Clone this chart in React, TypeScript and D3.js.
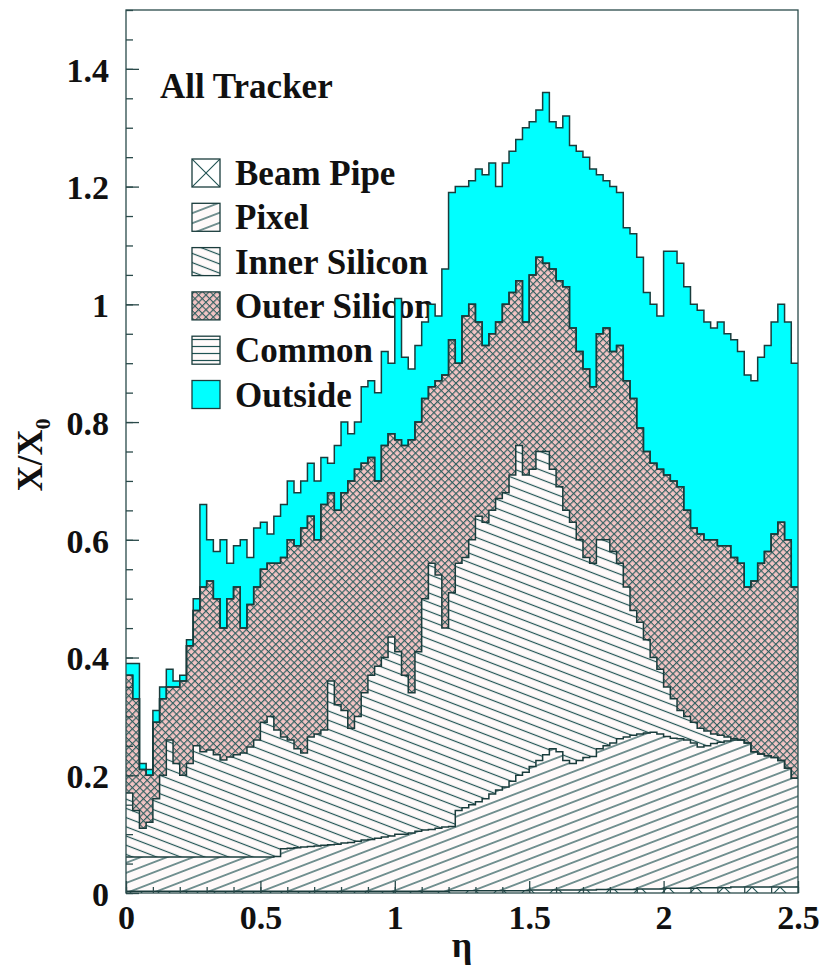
import { useEffect, useRef } from "react";
import * as d3 from "d3";

// eta bins of width 0.025 from 0 to 2.5
const binWidth = 0.025;
const nBins = 100;

// upper edge of each stacked component (X/X0), bin by bin
const beamPipeTop = [
  0.003, 0.003, 0.003, 0.003, 0.003, 0.003, 0.003, 0.003, 0.003, 0.003,
  0.003, 0.003, 0.003, 0.003, 0.003, 0.003, 0.003, 0.003, 0.003, 0.003,
  0.003, 0.003, 0.003, 0.003, 0.003, 0.003, 0.003, 0.003, 0.003, 0.003,
  0.003, 0.003, 0.003, 0.003, 0.003, 0.003, 0.003, 0.003, 0.003, 0.003,
  0.003, 0.003, 0.003, 0.003, 0.003, 0.003, 0.003, 0.003, 0.004, 0.004,
  0.004, 0.004, 0.004, 0.004, 0.004, 0.004, 0.004, 0.004, 0.004, 0.004,
  0.005, 0.005, 0.005, 0.005, 0.005, 0.005, 0.005, 0.005, 0.005, 0.005,
  0.006, 0.006, 0.006, 0.006, 0.006, 0.006, 0.007, 0.007, 0.007, 0.007,
  0.008, 0.008, 0.008, 0.008, 0.008, 0.009, 0.009, 0.009, 0.009, 0.009,
  0.01, 0.01, 0.01, 0.01, 0.01, 0.01, 0.01, 0.01, 0.01, 0.01,
];

const pixelTop = [
  0.061, 0.061, 0.061, 0.061, 0.061, 0.061, 0.061, 0.061, 0.061, 0.061,
  0.061, 0.061, 0.061, 0.061, 0.061, 0.061, 0.061, 0.061, 0.061, 0.061,
  0.061, 0.061, 0.062, 0.075, 0.076, 0.077, 0.078, 0.079, 0.08, 0.081,
  0.082, 0.083, 0.085, 0.086, 0.088, 0.09, 0.091, 0.093, 0.095, 0.097,
  0.1, 0.1, 0.102, 0.105, 0.107, 0.108, 0.11, 0.112, 0.113, 0.14,
  0.145, 0.15, 0.155, 0.16, 0.168, 0.175, 0.18, 0.19, 0.2, 0.205,
  0.215, 0.225, 0.235, 0.245, 0.24, 0.225, 0.22, 0.225, 0.23, 0.232,
  0.245, 0.25, 0.255, 0.262, 0.265, 0.268, 0.27, 0.272, 0.273, 0.27,
  0.266, 0.263, 0.262, 0.26, 0.255, 0.248, 0.25, 0.254, 0.256, 0.258,
  0.26, 0.26, 0.255, 0.24, 0.236, 0.233, 0.23, 0.225, 0.212, 0.195,
];

const innerSiliconTop = [
  0.17, 0.14, 0.11, 0.12, 0.16, 0.2, 0.26, 0.22, 0.2, 0.22,
  0.25, 0.24, 0.243, 0.235, 0.226, 0.231, 0.235, 0.238, 0.248, 0.26,
  0.29, 0.3, 0.277, 0.265, 0.26, 0.245, 0.238, 0.265, 0.27, 0.277,
  0.36, 0.32, 0.31, 0.28, 0.3, 0.34, 0.37, 0.385, 0.4, 0.435,
  0.41, 0.37, 0.34, 0.41, 0.5, 0.56, 0.54, 0.45, 0.51, 0.56,
  0.57, 0.6, 0.64, 0.63, 0.65, 0.67, 0.68, 0.71, 0.76, 0.71,
  0.72, 0.75, 0.75, 0.72, 0.69, 0.65, 0.63, 0.6, 0.57, 0.56,
  0.6, 0.6, 0.58, 0.56, 0.52, 0.48, 0.46, 0.43, 0.4, 0.38,
  0.35, 0.33, 0.31, 0.3, 0.29, 0.28, 0.275, 0.27, 0.268, 0.265,
  0.262, 0.26, 0.255, 0.24, 0.236, 0.233, 0.23, 0.225, 0.212, 0.195,
];

const outerSiliconTop = [
  0.37, 0.33, 0.21, 0.2, 0.29, 0.33, 0.35, 0.35, 0.36, 0.42,
  0.48, 0.52, 0.53, 0.5, 0.45, 0.5, 0.52, 0.45, 0.49, 0.52,
  0.55, 0.56, 0.56, 0.57, 0.6, 0.59, 0.62, 0.64, 0.6, 0.66,
  0.68, 0.65, 0.68, 0.7, 0.72, 0.73, 0.74, 0.7, 0.76, 0.78,
  0.77, 0.76, 0.77, 0.8, 0.84, 0.86, 0.87, 0.88, 0.94, 0.9,
  0.98, 1.0, 0.97, 0.93, 0.95, 0.97, 1.0, 1.02, 1.04, 0.97,
  1.05, 1.08, 1.07, 1.06, 1.04, 1.03, 0.96, 0.92, 0.89, 0.86,
  0.95, 0.96, 0.92, 0.93, 0.87, 0.84, 0.79, 0.75, 0.73, 0.72,
  0.71, 0.7, 0.69, 0.65, 0.62, 0.61, 0.6, 0.6, 0.59, 0.59,
  0.57, 0.56, 0.52, 0.53, 0.56, 0.58, 0.61, 0.63, 0.6, 0.52,
];

// Common is not visible anywhere in the picture: it equals Outer Silicon
const commonTop = outerSiliconTop;

const outsideTop = [
  0.39, 0.39, 0.22, 0.21, 0.31, 0.35, 0.38, 0.36, 0.37, 0.43,
  0.5, 0.66, 0.6, 0.58, 0.6, 0.56, 0.59, 0.6, 0.57, 0.62,
  0.63, 0.61, 0.64, 0.66, 0.7, 0.68, 0.7, 0.73, 0.7, 0.74,
  0.73, 0.76, 0.8, 0.78, 0.8, 0.86, 0.87, 0.85, 0.92, 0.9,
  1.01, 0.91, 0.89, 0.93, 0.97, 1.0, 0.98, 1.06, 1.19, 1.2,
  1.2, 1.21, 1.23, 1.22, 1.24, 1.2, 1.24, 1.26, 1.28, 1.3,
  1.31, 1.33, 1.36, 1.31, 1.3, 1.32, 1.27, 1.26, 1.25, 1.23,
  1.22, 1.21, 1.2, 1.19, 1.13, 1.12, 1.08, 1.02, 1.0, 0.98,
  1.09, 1.09, 1.07, 1.03, 1.0, 0.99, 0.97, 0.96, 0.97, 0.95,
  0.94, 0.92, 0.88, 0.87, 0.91, 0.93, 0.97, 1.0, 0.97, 0.9,
];

const layerNames = ["Beam Pipe", "Pixel", "Inner Silicon", "Outer Silicon", "Common", "Outside"];
const layerTops = [beamPipeTop, pixelTop, innerSiliconTop, outerSiliconTop, commonTop, outsideTop];
const layerFills = ["url(#p-beam)", "url(#p-pixel)", "url(#p-inner)", "url(#p-outer)", "url(#p-common)", "#00ffff"];

const xTicks = [0, 0.5, 1, 1.5, 2, 2.5];
const yTicks = [0, 0.2, 0.4, 0.6, 0.8, 1, 1.2, 1.4];

const W = 826;
const H = 970;
const font = "'Liberation Serif', 'DejaVu Serif', serif";
const lineCol = "#1a3c3c";
const hatchCol = "#1f5252";

export default function App() {
  const ref = useRef<SVGSVGElement>(null);

  useEffect(() => {
    const svg = d3.select(ref.current);
    svg.selectAll("*").remove();

    const x = d3.scaleLinear().domain([0, 2.5]).range([126, 798]);
    const y = d3.scaleLinear().domain([0, 1.5]).range([893, 10]);

    const defs = svg.append("defs");
    const hatch = (id: string, angle: number, gap: number) => {
      const p = defs
        .append("pattern")
        .attr("id", id)
        .attr("patternUnits", "userSpaceOnUse")
        .attr("width", 20)
        .attr("height", gap)
        .attr("patternTransform", `rotate(${angle})`);
      p.append("rect").attr("width", 20).attr("height", gap).attr("fill", "#fffafa");
      p.append("line")
        .attr("x1", 0).attr("x2", 20)
        .attr("y1", gap / 2).attr("y2", gap / 2)
        .attr("stroke", hatchCol)
        .attr("stroke-width", 1.2);
    };
    hatch("p-pixel", -21, 9.4);
    hatch("p-inner", 21, 8.6);
    hatch("p-common", 0, 7);

    // big X hatch, aligned with the legend box
    const beam = defs
      .append("pattern")
      .attr("id", "p-beam")
      .attr("patternUnits", "userSpaceOnUse")
      .attr("x", 192)
      .attr("y", 159)
      .attr("width", 28)
      .attr("height", 28);
    beam.append("rect").attr("width", 28).attr("height", 28).attr("fill", "#fff");
    beam.append("path").attr("d", "M0,0L28,28M28,0L0,28").attr("stroke", hatchCol).attr("stroke-width", 1.1);

    const cross = defs
      .append("pattern")
      .attr("id", "p-outer")
      .attr("patternUnits", "userSpaceOnUse")
      .attr("width", 5.2)
      .attr("height", 5.2)
      .attr("patternTransform", "rotate(45)");
    cross.append("rect").attr("width", 5.2).attr("height", 5.2).attr("fill", "#f3c4c4");
    cross.append("path").attr("d", "M0,0.6H5.2M0.6,0V5.2").attr("stroke", "#2f5f5f").attr("stroke-width", 1.15);

    defs.append("clipPath").attr("id", "frame-clip")
      .append("rect").attr("x", 126).attr("y", 10).attr("width", 672).attr("height", 883);

    // title
    svg.append("text")
      .attr("x", 160).attr("y", 98)
      .attr("font-family", font).attr("font-weight", "bold").attr("font-size", 35)
      .attr("fill", "#111")
      .text("All Tracker");

    // legend (drawn under the histograms, as in the original)
    const leg = svg.append("g");
    layerNames.forEach((name, i) => {
      const cy = 173 + i * 44.3;
      leg.append("rect")
        .attr("x", 192).attr("y", cy - 14).attr("width", 28).attr("height", 28)
        .attr("fill", layerFills[i]).attr("stroke", lineCol).attr("stroke-width", 1.3);
      leg.append("text")
        .attr("x", 235).attr("y", cy + 12)
        .attr("font-family", font).attr("font-weight", "bold").attr("font-size", 35)
        .attr("fill", "#111")
        .text(name);
    });

    // stacked histogram
    const edges = d3.range(nBins + 1).map((i) => i * binWidth);
    const rows = d3.range(nBins).map((i) => {
      const r: Record<string, number> = {};
      layerNames.forEach((n, k) => {
        r[n] = layerTops[k][i] - (k > 0 ? layerTops[k - 1][i] : 0);
      });
      return r;
    });
    const series = d3.stack<Record<string, number>>().keys(layerNames)(rows);

    const plot = svg.append("g").attr("clip-path", "url(#frame-clip)");
    const area = d3
      .area<[number, number]>()
      .curve(d3.curveStepAfter)
      .x((_, i) => x(edges[i]))
      .y0((d) => y(d[0]))
      .y1((d) => y(d[1]));
    const outline = d3
      .line<[number, number]>()
      .curve(d3.curveStepAfter)
      .x((_, i) => x(edges[i]))
      .y((d) => y(d[1]));

    series.forEach((s, k) => {
      const pts = s.map((d) => [d[0], d[1]] as [number, number]);
      pts.push(pts[pts.length - 1]);
      plot.append("path").attr("d", area(pts)).attr("fill", layerFills[k]);
    });
    series.forEach((s) => {
      const pts = s.map((d) => [d[0], d[1]] as [number, number]);
      pts.push(pts[pts.length - 1]);
      plot.append("path")
        .attr("d", outline(pts))
        .attr("fill", "none")
        .attr("stroke", lineCol)
        .attr("stroke-width", 1.5);
    });

    // frame
    svg.append("rect")
      .attr("x", 126).attr("y", 10).attr("width", 672).attr("height", 883)
      .attr("fill", "none").attr("stroke", "#2a4a4a").attr("stroke-width", 1.3);

    // axes
    const styleAxis = (g: d3.Selection<SVGGElement, unknown, null, undefined>) => {
      g.select(".domain").remove();
      g.selectAll(".tick line").attr("stroke", "#2a4a4a").attr("stroke-width", 1.3);
      g.selectAll(".tick text")
        .attr("font-family", font)
        .attr("font-weight", "bold")
        .attr("font-size", 34)
        .attr("fill", "#111");
    };

    svg.append("g")
      .attr("transform", "translate(126,0)")
      .call(d3.axisLeft(y).tickValues(y.ticks(30)).tickSize(-7).tickFormat(() => ""))
      .call(styleAxis);
    svg.append("g")
      .attr("transform", "translate(126,0)")
      .call(d3.axisLeft(y).tickValues(yTicks).tickSize(-13).tickPadding(17).tickFormat((d) => String(+d)))
      .call(styleAxis)
      .selectAll(".tick text").attr("dy", "0.36em");

    svg.append("g")
      .attr("transform", "translate(0,893)")
      .call(d3.axisBottom(x).tickValues(x.ticks(25)).tickSize(-6).tickFormat(() => ""))
      .call(styleAxis);
    svg.append("g")
      .attr("transform", "translate(0,893)")
      .call(d3.axisBottom(x).tickValues(xTicks).tickSize(-12).tickPadding(12).tickFormat((d) => String(+d)))
      .call(styleAxis)
      .selectAll(".tick text").attr("dy", "0.71em");

    // axis titles
    svg.append("text")
      .attr("x", 462).attr("y", 957)
      .attr("text-anchor", "middle")
      .attr("font-family", font).attr("font-weight", "bold").attr("font-size", 36)
      .attr("fill", "#111")
      .text("η");

    const yl = svg.append("text")
      .attr("transform", "translate(42,455) rotate(-90)")
      .attr("text-anchor", "middle")
      .attr("font-family", font).attr("font-weight", "bold").attr("font-size", 36)
      .attr("fill", "#111");
    yl.append("tspan").text("X/X");
    yl.append("tspan").attr("font-size", 22).attr("dy", 8).text("0");
  }, []);

  return (
    <svg
      ref={ref}
      width={W}
      height={H}
      style={{ position: "absolute", left: 0, top: 0, background: "#fff" }}
    ></svg>
  );
}
